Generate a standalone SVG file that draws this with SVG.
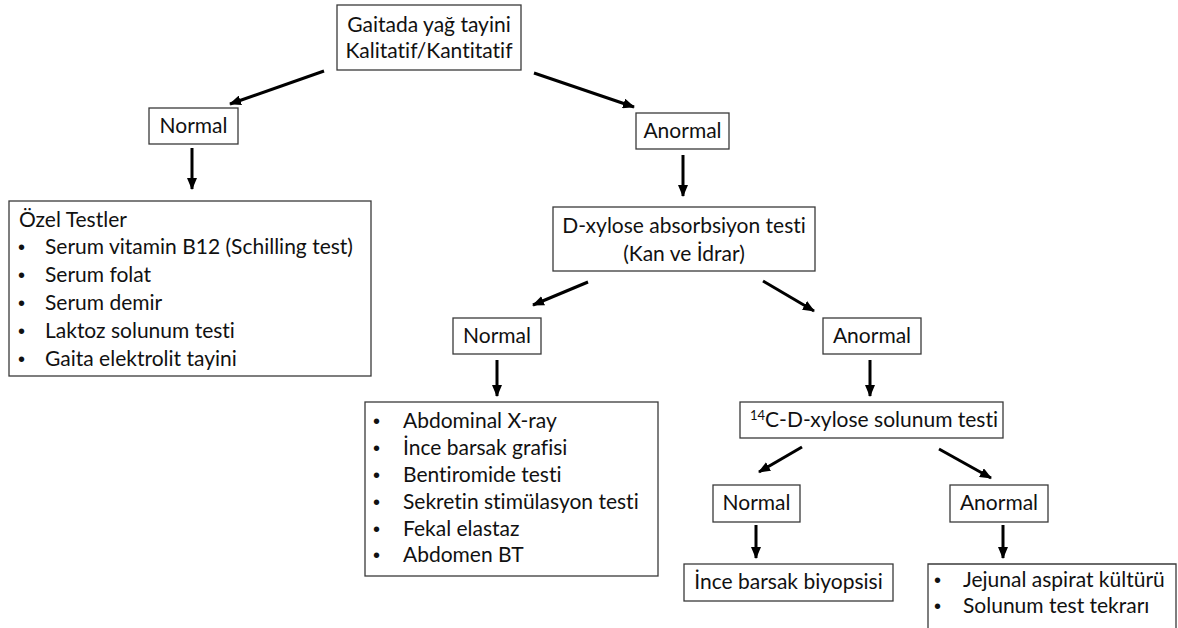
<svg xmlns="http://www.w3.org/2000/svg" width="1178" height="628" viewBox="0 0 1178 628">
  <style>
    .box { fill: #ffffff; stroke: #3a3a3a; stroke-width: 1.3; }
    .t { font-family: Lato, "Liberation Sans", sans-serif; font-size: 21px; fill: #111111; font-variant-ligatures: none; }
    .b { font-family: "Liberation Sans", sans-serif; font-size: 20px; fill: #111111; }
    .c { text-anchor: middle; }
    .arrow { stroke: #000000; stroke-width: 3; fill: none; marker-end: url(#head); }
  </style>
  <defs>
    <marker id="head" viewBox="0 0 12 10" refX="11" refY="5" markerWidth="12" markerHeight="10" markerUnits="userSpaceOnUse" orient="auto">
      <path d="M0,0 L12,5 L0,10 Z" fill="#000000"/>
    </marker>
  </defs>
  <rect width="1178" height="628" fill="#ffffff"/>

  <!-- connectors -->
  <g id="connectors">
    <line class="arrow" x1="324" y1="71" x2="230" y2="104"/>
    <line class="arrow" x1="534" y1="73" x2="634" y2="107"/>
    <line class="arrow" x1="192" y1="148" x2="192" y2="189"/>
    <line class="arrow" x1="683" y1="155" x2="683" y2="196"/>
    <line class="arrow" x1="588" y1="282" x2="533" y2="305"/>
    <line class="arrow" x1="763" y1="281" x2="814" y2="311"/>
    <line class="arrow" x1="497" y1="360" x2="497" y2="396"/>
    <line class="arrow" x1="870" y1="360" x2="870" y2="396"/>
    <line class="arrow" x1="802" y1="447" x2="759" y2="472"/>
    <line class="arrow" x1="939" y1="449" x2="991" y2="478"/>
    <line class="arrow" x1="756" y1="525" x2="756" y2="558"/>
    <line class="arrow" x1="1003" y1="525" x2="1003" y2="558"/>
  </g>

  <!-- root: fecal fat test -->
  <g id="n-root">
    <rect class="box" x="337" y="5" width="184" height="65"/>
    <text class="t c" x="429" y="32">Gaitada yağ tayini</text>
    <text class="t c" x="429" y="58">Kalitatif/Kantitatif</text>
  </g>

  <g id="n-normal1">
    <rect class="box" x="149" y="108" width="89" height="36"/>
    <text class="t c" x="193.5" y="133">Normal</text>
  </g>

  <g id="n-anormal1">
    <rect class="box" x="636" y="113" width="93" height="36"/>
    <text class="t c" x="682.5" y="138">Anormal</text>
  </g>

  <g id="n-ozel">
    <rect class="box" x="9" y="201" width="362" height="175"/>
    <text class="t" x="19" y="227">Özel Testler</text>
    <text class="b" x="18" y="254">•</text><text class="t" x="45" y="254">Serum vitamin B12 (Schilling test)</text>
    <text class="b" x="18" y="282">•</text><text class="t" x="45" y="282">Serum folat</text>
    <text class="b" x="18" y="310">•</text><text class="t" x="45" y="310">Serum demir</text>
    <text class="b" x="18" y="338">•</text><text class="t" x="45" y="338">Laktoz solunum testi</text>
    <text class="b" x="18" y="366">•</text><text class="t" x="45" y="366">Gaita elektrolit tayini</text>
  </g>

  <g id="n-dxylose">
    <rect class="box" x="553" y="207" width="262" height="64"/>
    <text class="t c" x="684" y="233">D-xylose absorbsiyon testi</text>
    <text class="t c" x="684" y="261">(Kan ve İdrar)</text>
  </g>

  <g id="n-normal2">
    <rect class="box" x="453" y="318" width="88" height="36"/>
    <text class="t c" x="497" y="343">Normal</text>
  </g>

  <g id="n-anormal2">
    <rect class="box" x="823" y="318" width="98" height="36"/>
    <text class="t c" x="872" y="343">Anormal</text>
  </g>

  <g id="n-imaging">
    <rect class="box" x="365" y="402" width="293" height="174"/>
    <text class="b" x="373" y="428">•</text><text class="t" x="403" y="428">Abdominal X-ray</text>
    <text class="b" x="373" y="455">•</text><text class="t" x="403" y="455">İnce barsak grafisi</text>
    <text class="b" x="373" y="482">•</text><text class="t" x="403" y="482">Bentiromide testi</text>
    <text class="b" x="373" y="509">•</text><text class="t" x="403" y="509">Sekretin stimülasyon testi</text>
    <text class="b" x="373" y="536">•</text><text class="t" x="403" y="536">Fekal elastaz</text>
    <text class="b" x="373" y="562">•</text><text class="t" x="403" y="562">Abdomen BT</text>
  </g>

  <g id="n-c14">
    <rect class="box" x="740" y="402" width="263" height="36"/>
    <text class="t" x="750" y="427"><tspan font-size="13" dy="-7">14</tspan><tspan dy="7">C-D-xylose solunum testi</tspan></text>
  </g>

  <g id="n-normal3">
    <rect class="box" x="713" y="485" width="87" height="37"/>
    <text class="t c" x="756.5" y="510">Normal</text>
  </g>

  <g id="n-anormal3">
    <rect class="box" x="950" y="485" width="98" height="37"/>
    <text class="t c" x="999" y="510">Anormal</text>
  </g>

  <g id="n-biopsy">
    <rect class="box" x="684" y="564" width="209" height="37"/>
    <text class="t c" x="788.5" y="589">İnce barsak biyopsisi</text>
  </g>

  <g id="n-jejunal">
    <path class="box" d="M928,640 L928,564 L1176,564 L1176,640" fill="none"/>
    <text class="b" x="934" y="587">•</text><text class="t" x="963" y="587">Jejunal aspirat kültürü</text>
    <text class="b" x="934" y="613">•</text><text class="t" x="963" y="613">Solunum test tekrarı</text>
  </g>
</svg>
